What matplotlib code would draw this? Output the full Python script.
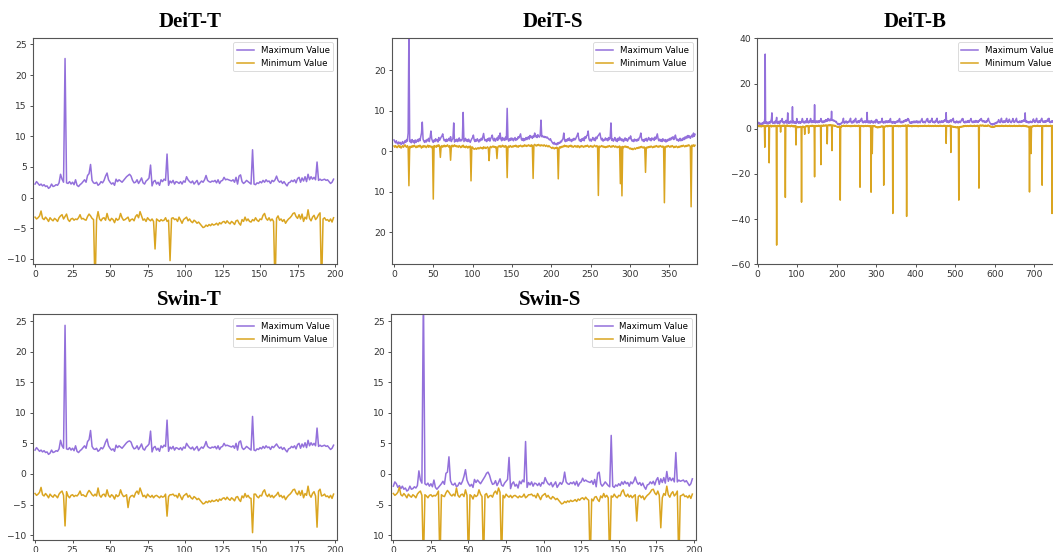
import numpy as np
import matplotlib
matplotlib.use("Agg")
import matplotlib.pyplot as plt
from matplotlib.ticker import FixedLocator, FixedFormatter

# ---------------- data ----------------
titles = ["DeiT-T", "DeiT-S", "DeiT-B", "Swin-T", "Swin-S"]
legend_labels = ["Maximum Value", "Minimum Value"]

deit_t_max = [
    2.2, 2.6, 2.3, 2.0, 2.2, 1.9, 2.1, 1.8, 1.9, 1.5,
    1.7, 2.2, 1.8, 1.9, 2.1, 2.0, 2.4, 3.8, 3.0, 2.5,
    22.7, 2.4, 2.3, 2.6, 2.2, 2.5, 2.1, 2.9, 2.0, 1.8,
    2.1, 2.3, 2.6, 2.9, 2.5, 3.6, 3.9, 5.4, 2.8, 2.4,
    2.3, 2.5, 2.0, 2.2, 2.6, 2.4, 2.8, 3.5, 4.0, 2.9,
    2.5, 2.2, 2.4, 2.0, 3.0, 2.6, 2.9, 2.7, 2.5, 2.8,
    3.1, 3.4, 3.6, 3.8, 3.5, 2.8, 2.4, 2.5, 2.9, 2.3,
    2.7, 3.2, 2.4, 2.2, 2.7, 2.9, 3.2, 5.3, 1.9, 2.6,
    2.8, 2.2, 2.5, 2.0, 2.9, 2.6, 3.0, 2.8, 7.1, 2.0,
    2.7, 2.4, 2.8, 2.2, 2.6, 2.5, 2.3, 2.6, 2.2, 2.7,
    2.5, 3.4, 2.9, 2.6, 2.4, 2.7, 2.2, 2.5, 2.8, 2.1,
    2.4, 2.7, 2.5, 2.9, 3.6, 2.8, 2.6, 2.5, 2.7, 2.6,
    2.8, 2.4, 2.9, 2.3, 2.7, 2.8, 3.3, 2.9, 3.0, 2.9,
    2.8, 2.7, 2.9, 2.5, 3.3, 2.2, 3.5, 3.7, 2.6, 2.3,
    2.5, 2.8, 2.6, 2.4, 2.2, 7.8, 2.2, 2.1, 2.4, 2.3,
    2.6, 2.4, 2.8, 2.5, 2.9, 2.6, 2.7, 2.3, 2.8, 2.6,
    2.9, 3.5, 2.8, 2.5, 2.7, 2.3, 2.6, 2.2, 1.9, 2.4,
    2.5, 2.8, 2.6, 2.9, 2.4, 3.1, 3.3, 2.5, 3.2, 2.7,
    3.4, 2.6, 3.8, 2.9, 3.4, 3.0, 3.3, 2.9, 5.8, 2.8,
    3.0, 2.8, 2.9, 3.0, 2.8, 2.9, 2.6, 2.3, 2.5, 3.0,
]
deit_t_min = [
    -3.2, -3.5, -3.3, -3.0, -2.2, -3.4, -3.6, -3.2, -3.5, -3.9,
    -3.3, -3.6, -3.8, -3.4, -3.6, -3.9, -3.3, -3.0, -2.8, -3.5,
    -3.1, -2.7, -3.6, -3.9, -3.5, -3.4, -3.7, -3.5, -3.6, -3.3,
    -2.8, -3.5, -3.4, -3.6, -3.7, -3.1, -2.7, -3.0, -3.4, -3.6,
    -15.0, -3.6, -2.3, -3.5, -3.8, -3.4, -3.3, -3.7, -2.6, -3.5,
    -3.8, -3.4, -3.6, -4.1, -3.4, -3.7, -3.5, -2.6, -3.3, -3.7,
    -3.6, -3.4, -3.2, -3.9, -3.6, -3.5, -3.8, -3.1, -2.8, -3.3,
    -2.3, -3.0, -3.7, -3.5, -3.9, -3.3, -3.6, -3.8, -3.5, -3.9,
    -8.4, -3.5, -3.7, -3.9, -3.6, -3.8, -3.7, -3.3, -3.9, -3.7,
    -10.3, -3.4, -3.3, -3.6, -3.5, -3.9, -3.2, -3.7, -4.2, -3.6,
    -3.4, -3.2, -3.8, -3.5, -3.9, -4.1, -3.7, -3.9, -4.2, -4.0,
    -4.3, -4.6, -4.9, -4.8, -4.5, -4.7, -4.4, -4.6, -4.3, -4.5,
    -4.4, -4.2, -4.5, -4.1, -4.3, -4.0, -3.9, -4.2, -3.8, -4.1,
    -4.3, -3.9, -4.1, -4.4, -3.8, -3.7, -4.2, -4.5, -3.6, -3.9,
    -3.2, -3.8, -3.5, -3.9, -4.0, -3.6, -3.8, -3.3, -3.7, -3.9,
    -3.5, -3.6, -2.9, -2.6, -3.4, -3.7, -3.3, -3.8, -3.5, -3.9,
    -15.0, -3.4, -3.0, -3.7, -3.5, -3.9, -3.6, -4.2, -3.8, -3.5,
    -3.3, -3.0, -2.6, -2.5, -3.1, -3.4, -2.8, -3.5, -2.7, -3.9,
    -3.2, -3.5, -2.0, -3.4, -3.8, -3.2, -2.9, -3.6, -3.3, -2.8,
    -2.5, -15.0, -3.5, -3.3, -3.7, -3.6, -3.9, -3.5, -4.0, -3.3,
]

deit_s_max = [
    2.8, 2.4, 2.1, 2.6, 2.0, 1.8, 2.3, 1.9, 2.2, 1.7,
    2.0, 2.4, 1.8, 2.1, 2.6, 2.2, 2.9, 2.5, 4.5, 30.0,
    2.4, 2.7, 2.1, 2.9, 2.3, 2.6, 2.0, 2.8, 2.2, 2.5,
    2.9, 2.4, 3.1, 2.6, 3.5, 4.5, 7.2, 3.0, 2.5, 2.2,
    2.7, 2.3, 2.9, 2.6, 3.2, 2.4, 3.5, 5.0, 3.1, 2.5,
    2.2, 2.8, 2.4, 3.1, 2.6, 2.9, 2.3, 3.4, 2.7, 3.1,
    3.5, 3.8, 4.3, 3.2, 2.6, 2.9, 2.4, 3.0, 2.5, 2.8,
    3.2, 2.6, 3.6, 2.4, 2.9, 3.1, 7.0, 2.3, 2.8, 2.5,
    3.0, 2.4, 2.7, 3.3, 2.5, 2.9, 2.6, 3.1, 9.6, 2.4,
    2.8, 3.2, 2.5, 2.9, 2.4, 3.0, 2.6, 2.2, 2.7, 3.1,
    3.4, 4.0, 2.8, 2.4, 2.9, 2.5, 3.1, 2.7, 2.3, 2.9,
    2.6, 3.2, 2.8, 3.6, 4.4, 3.0, 2.6, 2.9, 2.4, 3.1,
    2.7, 3.3, 2.5, 3.1, 3.5, 4.0, 2.9, 2.6, 3.2, 2.5,
    2.9, 3.3, 2.7, 3.8, 3.1, 4.5, 3.0, 2.6, 3.4, 2.8,
    3.2, 2.7, 3.5, 2.9, 10.6, 3.0, 2.5, 3.1, 2.7, 3.3,
    2.8, 3.2, 2.6, 3.0, 3.4, 2.7, 3.1, 2.9, 3.6, 3.3,
    3.8, 4.3, 3.0, 2.7, 3.2, 2.6, 3.1, 2.8, 3.4, 2.9,
    3.3, 3.6, 3.0, 3.9, 3.4, 3.7, 3.2, 3.8, 3.5, 4.5,
    3.6, 3.9, 3.4, 4.1, 3.7, 3.5, 3.9, 7.7, 3.6, 3.8,
    3.5, 3.7, 3.4, 3.6, 3.3, 3.5, 3.2, 3.0, 2.8, 3.1,
    2.6, 2.3, 2.0, 1.8, 2.2, 1.7, 1.9, 1.6, 2.1, 1.8,
    2.2, 2.0, 2.5, 2.3, 2.8, 3.1, 4.5, 2.7, 2.4, 2.9,
    2.5, 3.1, 2.7, 3.3, 2.6, 2.9, 2.4, 3.0, 2.7, 3.2,
    2.8, 3.0, 3.5, 3.9, 4.5, 3.2, 2.6, 2.9, 2.4, 3.1,
    2.7, 3.3, 2.6, 3.6, 3.2, 3.8, 4.0, 5.0, 3.1, 2.6,
    3.0, 2.5, 2.9, 3.4, 2.8, 3.2, 2.6, 3.5, 3.1, 3.7,
    3.9, 4.2, 4.5, 3.4, 2.8, 3.2, 2.5, 2.9, 2.7, 3.3,
    2.8, 3.1, 2.6, 3.4, 2.9, 3.2, 7.0, 2.7, 3.1, 2.5,
    2.9, 3.4, 2.6, 3.0, 2.4, 3.2, 2.7, 3.5, 2.8, 3.1,
    2.6, 3.0, 2.4, 2.8, 3.3, 2.7, 3.1, 2.5, 2.9, 3.4,
    3.1, 3.8, 2.9, 2.5, 2.8, 2.4, 3.0, 2.6, 2.9, 2.5,
    3.0, 2.7, 3.3, 3.6, 4.5, 3.1, 2.6, 2.9, 2.4, 3.0,
    2.7, 3.2, 2.5, 2.9, 3.4, 2.8, 3.1, 2.6, 3.3, 2.9,
    3.2, 2.7, 3.5, 3.0, 3.7, 4.3, 3.1, 2.6, 3.0, 2.5,
    2.9, 2.4, 3.1, 2.7, 2.5, 2.9, 2.3, 2.8, 2.5, 3.0,
    2.7, 3.2, 2.8, 3.4, 3.1, 3.6, 2.9, 3.3, 4.0, 3.1,
    2.7, 3.0, 2.5, 2.8, 3.2, 2.6, 3.0, 2.7, 3.3, 2.9,
    3.5, 3.1, 3.7, 3.3, 3.9, 3.4, 3.8, 3.2, 3.6, 4.0,
    3.5, 4.5, 3.7, 4.2,
]
deit_s_min = [
    1.3, 1.0, 1.4, 1.1, 0.9, 1.2, 1.5, 1.0, 1.3, 0.8,
    1.1, 1.4, 1.0, 1.3, 1.6, 1.2, 1.0, 1.4, 1.1, -8.5,
    1.2, 0.9, 1.3, 1.0, 1.4, 1.1, 1.5, 1.2, 0.9, 1.3,
    1.0, 1.4, 1.1, 1.5, 1.2, 0.8, 1.3, 1.0, 1.4, 1.1,
    1.3, 0.9, 1.2, 1.5, 1.0, 1.4, 1.1, 1.3, 0.9, 1.2,
    -11.8, 1.4, 1.1, 1.3, 1.0, 1.5, 1.2, 1.6, 1.3, -1.5,
    1.2, 1.4, 1.0, 1.3, 1.5, 1.1, 1.4, 1.2, 1.6, 1.3,
    1.0, 1.4, -2.2, 1.2, 1.5, 1.1, 1.3, 1.6, 1.2, 1.4,
    1.1, 1.3, 1.0, 1.4, 1.2, 0.9, 1.3, 1.1, 1.5, 1.0,
    1.2, 0.9, 1.3, 1.1, 0.8, 1.2, 1.0, 1.3, -7.3, 1.1,
    1.0, 0.7, 0.5, 0.6, 0.8, 0.5, 0.7, 0.9, 0.6, 0.8,
    1.0, 0.7, 0.9, 0.6, 1.1, 0.8, 1.0, 0.7, 0.9, 1.1,
    0.8, -2.3, 1.0, 1.2, 0.9, 1.1, 1.3, 1.0, 1.2, 0.9,
    1.1, -1.8, 1.0, 1.3, 1.1, 1.4, 1.0, 1.2, 1.5, 1.1,
    1.3, 1.0, 1.4, 1.2, -6.5, 1.1, 1.3, 1.0, 1.4, 1.2,
    1.0, 1.3, 1.1, 1.4, 1.2, 1.5, 1.1, 1.3, 1.0, 1.4,
    1.2, 1.5, 1.3, 1.1, 1.4, 1.2, 1.6, 1.3, 1.5, 1.2,
    1.4, 1.6, 1.3, 1.5, 1.2, 1.6, 1.4, -6.7, 1.5, 1.7,
    1.5, 1.3, 1.6, 1.4, 1.7, 1.5, 1.3, 1.6, 1.4, 1.5,
    1.3, 1.6, 1.4, 1.2, 1.5, 1.3, 1.1, 1.4, 1.2, 1.0,
    0.9, 0.7, 1.0, 0.8, 0.6, 0.9, 0.7, 1.0, 0.8, -6.8,
    0.9, 1.1, 0.8, 1.2, 1.0, 1.3, 1.1, 1.5, 1.2, 1.4,
    1.1, 1.3, 1.0, 1.4, 1.2, 1.5, 1.1, 1.3, 1.0, 1.2,
    1.4, 1.1, 1.3, 1.0, 1.4, 1.2, 0.9, 1.3, 1.1, 1.4,
    1.2, 1.0, 1.3, 1.1, 1.4, 1.2, 1.5, 1.3, 1.0, 1.2,
    1.4, 1.1, 1.3, 1.0, 1.2, 1.5, 1.3, 1.1, 1.4, 1.2,
    -10.9, 1.3, 1.0, 1.2, 1.4, 1.1, 1.3, 1.0, 1.2, 0.9,
    1.2, 1.0, 1.3, 1.1, 1.4, 1.2, 1.0, 1.3, 1.1, 1.4,
    1.2, 1.0, 1.3, 1.1, 0.9, 1.2, 1.0, 1.3, -8.0, 1.1,
    -11.0, 1.2, 0.9, 1.1, 1.3, 1.0, 1.2, 0.9, 1.1, 0.8,
    0.6, 0.8, 0.5, 0.7, 0.4, 0.6, 0.8, 0.5, 0.7, 0.9,
    0.7, 1.0, 0.8, 1.1, 0.9, 1.2, 1.0, 0.8, 1.1, 0.9,
    -5.2, 1.0, 0.8, 1.1, 0.9, 1.2, 1.0, 1.3, 1.1, 0.9,
    1.2, 1.0, 1.3, 1.1, 1.4, 1.2, 1.0, 1.3, 1.1, 1.4,
    1.2, 1.0, 1.3, 1.1, -12.7, 1.2, 1.0, 1.3, 1.1, 1.4,
    1.2, 1.0, 1.3, 1.1, 1.4, 1.2, 0.9, 1.2, 1.0, 1.3,
    1.1, 0.9, 1.2, 1.0, 1.3, 1.1, 1.4, 1.2, 1.5, 1.3,
    1.1, 1.4, 1.2, 1.5, 1.3, 1.6, 1.4, 1.2, -13.7, 1.5,
    1.3, 1.6, 1.2, 1.5,
]

deit_b_max = [
    2.9, 2.5, 2.2, 2.7, 2.1, 1.9, 2.4, 2.0, 2.3, 1.8, 2.1, 2.5, 1.9, 2.2, 2.7, 2.3, 3.0, 2.6, 4.6, 33.0,
    2.5, 2.8, 2.2, 3.0, 2.4, 2.7, 2.1, 2.9, 2.3, 2.6, 3.0, 2.5, 3.2, 2.7, 3.6, 4.6, 7.0, 3.1, 2.6, 2.3,
    2.8, 2.4, 3.0, 2.7, 3.3, 2.5, 3.6, 3.9, 5.0, 2.6, 2.3, 2.9, 2.5, 3.2, 2.7, 3.0, 2.4, 3.5, 2.8, 3.2,
    3.6, 3.9, 4.5, 3.3, 2.7, 3.0, 2.5, 3.1, 2.6, 2.9, 3.3, 2.7, 3.7, 2.5, 3.0, 3.2, 7.0, 2.4, 2.9, 2.6,
    3.1, 2.5, 2.8, 3.4, 2.6, 3.0, 2.7, 3.2, 9.7, 2.5, 2.9, 3.3, 2.6, 3.0, 2.5, 3.1, 2.7, 2.3, 2.8, 4.5,
    3.5, 3.1, 2.9, 2.5, 3.0, 2.6, 3.2, 2.8, 2.4, 3.0, 2.7, 3.3, 2.9, 4.5, 3.7, 3.1, 2.7, 3.0, 2.5, 3.2,
    2.8, 3.4, 2.6, 3.2, 3.6, 4.5, 3.0, 2.7, 3.3, 2.6, 3.0, 3.4, 2.8, 3.9, 4.5, 3.3, 3.1, 2.7, 3.5, 2.9,
    3.3, 2.8, 3.6, 3.0, 10.6, 3.1, 2.6, 3.2, 2.8, 3.4, 2.9, 3.3, 2.7, 3.1, 3.5, 2.8, 3.2, 3.0, 3.7, 3.4,
    4.5, 3.9, 3.1, 2.8, 3.3, 2.7, 3.2, 2.9, 3.5, 3.0, 3.4, 3.7, 3.1, 4.0, 3.5, 3.8, 3.3, 3.9, 4.5, 3.6,
    3.7, 4.0, 3.5, 4.2, 3.8, 3.6, 4.0, 7.7, 3.7, 3.9, 3.6, 3.8, 3.5, 3.7, 3.4, 3.6, 3.3, 3.1, 2.9, 3.2,
    2.7, 2.4, 2.1, 1.9, 2.3, 1.8, 2.0, 1.7, 2.2, 1.9, 2.3, 2.1, 2.6, 2.4, 2.9, 3.2, 3.6, 4.6, 2.8, 2.5,
    3.0, 2.6, 3.2, 2.8, 3.4, 2.7, 3.0, 2.5, 3.1, 2.8, 3.3, 2.9, 3.1, 3.6, 4.0, 4.6, 3.3, 2.7, 3.0, 2.5,
    3.2, 2.8, 3.4, 2.7, 3.7, 3.3, 3.9, 4.1, 4.6, 3.2, 2.7, 3.1, 2.6, 3.0, 3.5, 2.9, 3.3, 2.7, 3.6, 3.2,
    3.8, 4.0, 4.3, 4.6, 3.5, 2.9, 3.3, 2.6, 3.0, 2.8, 3.4, 2.9, 3.2, 2.7, 3.5, 3.0, 3.3, 7.2, 2.8, 3.2,
    2.6, 3.0, 3.5, 2.7, 3.1, 2.5, 3.3, 2.8, 3.6, 2.9, 3.2, 2.7, 3.1, 2.5, 2.9, 3.4, 2.8, 3.2, 2.6, 3.0,
    4.1, 3.2, 3.9, 3.0, 2.6, 2.9, 2.5, 3.1, 2.7, 3.0, 2.6, 3.1, 2.8, 3.4, 3.7, 4.6, 3.2, 2.7, 3.0, 2.5,
    3.1, 2.8, 3.3, 2.6, 3.0, 3.5, 2.9, 3.2, 2.7, 3.4, 3.0, 3.3, 2.8, 3.6, 3.1, 3.8, 4.5, 3.2, 2.7, 3.1,
    2.6, 3.0, 2.5, 3.2, 2.8, 2.6, 3.0, 2.4, 2.9, 2.6, 3.1, 2.8, 3.3, 2.9, 3.5, 3.2, 3.7, 3.0, 3.4, 4.5,
    3.2, 2.8, 3.1, 2.6, 2.9, 3.3, 2.7, 3.1, 2.8, 3.4, 3.0, 3.6, 3.2, 3.8, 3.4, 3.9, 3.3, 3.7, 4.1, 3.6,
    4.5, 3.8, 4.2, 3.5, 3.0, 2.6, 2.9, 2.4, 2.8, 2.5, 3.1, 2.7, 3.0, 2.6, 3.3, 2.8, 3.1, 2.7, 3.4, 3.0,
    2.7, 3.2, 2.8, 3.5, 3.0, 2.6, 3.1, 2.7, 3.3, 2.9, 3.2, 2.6, 3.0, 3.5, 3.9, 4.1, 4.5, 3.2, 2.8, 3.1,
    2.7, 3.3, 2.9, 3.1, 2.6, 3.0, 3.4, 3.8, 4.2, 3.6, 4.5, 3.3, 2.9, 3.2, 2.7, 3.1, 3.5, 2.8, 3.2, 3.7,
    4.0, 4.6, 3.4, 2.9, 3.3, 2.8, 3.1, 2.6, 3.0, 3.4, 2.8, 3.3, 3.9, 4.3, 4.6, 3.1, 2.7, 3.0, 2.5, 3.2,
    2.8, 3.4, 3.0, 2.7, 3.2, 2.9, 3.5, 3.1, 2.8, 3.3, 3.0, 3.6, 3.2, 3.8, 3.4, 4.1, 3.6, 7.1, 3.0, 3.3,
    2.9, 3.5, 3.1, 2.7, 3.3, 2.9, 3.6, 3.2, 3.9, 3.4, 3.0, 3.5, 4.0, 3.7, 4.2, 4.6, 3.3, 2.8, 3.1, 2.7,
    3.0, 2.6, 3.2, 2.8, 3.4, 2.9, 3.1, 2.6, 3.0, 2.7, 3.3, 2.9, 3.2, 2.7, 3.1, 3.5, 3.9, 4.3, 3.6, 4.5,
    4.1, 3.2, 2.8, 3.1, 2.6, 3.0, 3.3, 2.7, 3.1, 2.8, 3.4, 2.9, 3.2, 3.6, 3.0, 3.3, 2.8, 3.5, 3.9, 4.2,
    4.5, 3.6, 3.1, 2.8, 3.2, 2.7, 3.0, 3.4, 2.9, 3.3, 2.8, 3.1, 3.6, 3.2, 3.0, 3.4, 2.9, 3.3, 2.8, 3.2,
    3.6, 3.3, 3.8, 4.1, 3.7, 4.3, 4.5, 3.8, 3.4, 3.1, 3.6, 3.2, 3.5, 3.0, 3.3, 2.9, 3.2, 2.8, 3.1, 3.5,
    3.0, 3.4, 3.8, 4.2, 4.6, 3.6, 3.2, 2.9, 2.6, 2.3, 2.1, 1.9, 2.2, 1.8, 2.0, 1.7, 2.1, 1.9, 2.3, 2.0,
    2.4, 2.2, 2.6, 2.3, 2.8, 2.5, 2.9, 2.7, 3.1, 3.6, 4.0, 3.2, 2.8, 3.1, 2.7, 3.3, 3.8, 4.6, 3.4, 2.9,
    3.2, 2.7, 3.0, 3.5, 2.9, 3.3, 2.8, 3.1, 3.6, 4.0, 4.6, 3.4, 3.0, 3.3, 2.8, 3.2, 3.7, 4.2, 3.5, 3.1,
    2.8, 3.2, 2.7, 3.1, 3.6, 3.9, 4.5, 3.5, 3.0, 3.3, 2.8, 3.1, 3.5, 3.9, 4.3, 4.6, 3.3, 2.9, 3.2, 2.8,
    3.1, 2.7, 3.0, 3.4, 2.9, 3.2, 2.8, 3.3, 2.9, 3.5, 3.1, 3.6, 3.2, 3.8, 3.4, 3.9, 3.5, 7.0, 3.1, 3.4,
    2.9, 3.3, 2.8, 3.2, 2.7, 3.1, 2.6, 3.0, 2.7, 3.2, 2.8, 3.3, 2.9, 3.1, 2.7, 3.0, 3.4, 3.8, 4.3, 3.5,
    3.0, 3.3, 2.8, 3.2, 3.7, 4.1, 4.6, 3.4, 2.9, 3.2, 2.7, 3.1, 3.5, 3.0, 3.3, 2.8, 3.4, 3.9, 4.2, 4.6,
    3.6, 3.1, 3.4, 2.9, 3.2, 2.8, 3.3, 2.9, 3.5, 3.0, 3.4, 3.1, 3.7, 3.3, 3.9, 4.4, 3.5, 4.6, 3.2, 2.8,
    3.1, 2.7, 3.0, 3.4, 2.9, 3.3, 3.0, 3.5, 3.1, 3.6, 3.2, 3.8, 3.4, 3.9, 3.5, 4.1, 3.6, 4.3, 3.8, 4.5,
    3.9, 3.6, 4.2, 3.7, 4.0, 3.5, 3.8, 4.1,
]
deit_b_min = [
    1.3, 1.0, 1.4, 1.1, 0.9, 1.2, 1.5, 1.0, 1.3, 0.8, 1.1, 1.4, 1.0, 1.3, 1.5, 1.2, 1.0, 1.4, -8.2, 1.1,
    1.2, 0.9, 1.3, 1.0, 1.4, 1.1, 1.5, 1.2, 0.9, -15.1, 1.0, 1.4, 1.1, 1.5, 1.2, 0.8, 1.3, 1.0, 1.4, 1.1,
    1.3, 0.9, 1.2, 1.5, 1.0, 1.4, 1.1, 1.3, -51.5, 1.2, 1.4, 1.1, 1.3, 1.0, 1.5, 1.2, 1.6, 1.3, -1.5, 1.2,
    1.4, 1.0, 1.3, 1.5, 1.1, 1.4, 1.2, 1.6, 1.3, 1.0, -30.4, 1.2, 1.5, 1.1, 1.3, 1.6, 1.2, 1.4, 1.1, 1.3,
    1.0, 1.4, 1.2, 0.9, 1.3, 1.1, 1.5, 1.0, 1.2, 0.9, 1.3, 1.1, 0.8, 1.2, 1.0, 1.3, 0.9, -7.2, 1.1, 1.0,
    0.7, 0.5, 0.6, 0.8, 0.5, 0.7, 0.9, 0.6, 0.8, 1.0, 0.7, -32.5, 0.9, 0.6, 1.1, 0.8, 1.0, 0.7, 0.9, -2.5,
    0.8, 1.1, 1.0, 1.2, 0.9, 1.1, 1.3, 1.0, 1.2, -2.0, 0.9, 1.1, 1.0, 1.3, 1.1, 1.4, 1.0, 1.2, 1.5, 1.1,
    1.3, 1.0, 1.4, 1.2, -21.3, 1.1, 1.3, 1.0, 1.4, 1.2, 1.0, 1.3, 1.1, 1.4, 1.2, 1.5, 1.1, 1.3, 1.0, 1.4,
    -15.9, 1.5, 1.3, 1.1, 1.4, 1.2, 1.6, 1.3, 1.5, 1.2, 1.4, 1.6, 1.3, 1.5, 1.2, 1.6, -6.7, 1.4, 1.5, 1.7,
    1.5, 1.3, 1.6, 1.4, 1.7, 1.5, 1.3, 1.6, -9.7, 1.5, 1.3, 1.6, 1.4, 1.2, 1.5, 1.3, 1.1, 1.4, 1.2, 1.0,
    0.9, 0.7, 1.0, 0.8, 0.6, 0.9, 0.7, 1.0, 0.8, -31.6, 0.9, 1.1, 0.8, 1.2, 1.0, 1.3, 1.1, 1.5, 1.2, 1.4,
    1.1, 1.3, 1.0, 1.4, 1.2, 1.5, 1.1, 1.3, 1.0, 1.2, 1.4, 1.1, 1.3, 1.0, 1.4, 1.2, 0.9, 1.3, 1.1, 1.4,
    1.2, 1.0, 1.3, 1.1, 1.4, 1.2, 1.5, 1.3, 1.0, 1.2, 1.4, 1.1, 1.3, 1.0, 1.2, 1.5, 1.3, 1.1, 1.4, -25.9,
    1.3, 1.0, 1.2, 1.4, 1.1, 1.3, 1.0, 1.2, 0.9, 1.2, 1.0, 1.3, 1.1, 1.4, 1.2, 1.0, 1.3, 1.1, 1.4, 1.2,
    1.0, 1.3, 1.1, 0.9, 1.2, 1.0, 1.3, -28.1, 1.1, 1.2, -11.0, 1.2, 0.9, 1.1, 1.3, 1.0, 1.2, 0.9, 1.1, 0.8,
    0.6, 0.8, 0.5, 0.7, 0.4, 0.6, 0.8, 0.5, 0.7, 0.9, 0.7, 1.0, 0.8, 1.1, 0.9, 1.2, 1.0, 0.8, 1.1, -25.0,
    0.9, 1.0, 0.8, 1.1, 0.9, 1.2, 1.0, 1.3, 1.1, 0.9, 1.2, 1.0, 1.3, 1.1, 1.4, 1.2, 1.0, 1.3, 1.1, 1.4,
    1.2, 1.0, -37.5, 1.1, 1.3, 1.2, 1.0, 1.3, 1.1, 1.4, 1.2, 1.0, 1.3, 1.1, 1.4, 1.2, 0.9, 1.2, 1.0, 1.3,
    1.1, 0.9, 1.2, 1.0, 1.3, 1.1, 1.4, 1.2, 1.5, 1.3, 1.1, 1.4, 1.2, 1.5, 1.3, 1.6, 1.4, -38.8, 1.2, 1.5,
    1.3, 1.6, 1.2, 1.5, 1.2, 1.0, 1.3, 1.1, 1.4, 1.2, 0.9, 1.3, 1.0, 1.4, 1.1, 1.3, 1.0, 1.2, 1.4, 1.1,
    1.3, 1.0, 1.2, 1.4, 1.1, 1.3, 0.9, 1.2, 1.0, 1.3, 1.1, 1.4, 1.2, 1.0, 1.3, 1.1, 1.4, 1.2, 1.0, 1.3,
    1.1, 1.4, 1.2, 1.5, 1.3, 1.1, 1.4, 1.2, 1.0, 1.3, 1.1, 1.4, 1.2, 1.5, 1.3, 1.0, 1.2, 1.4, 1.1, 1.3,
    1.0, 1.2, 1.4, 1.1, 1.3, 1.0, 1.2, 1.4, 1.1, 1.3, 1.5, 1.2, 1.0, 1.3, 1.1, 1.4, 1.2, 1.0, 1.3, 1.1,
    1.4, 1.2, 1.5, 1.3, 1.1, 1.4, 1.2, 1.0, 1.3, 1.1, 1.4, 1.2, 1.5, 1.3, 1.1, 1.4, 1.2, -6.5, 1.3, 1.1,
    1.4, 1.2, 1.0, 1.3, 1.1, 1.4, 1.2, 1.5, 1.3, -10.5, 1.2, 1.0, 0.8, 1.1, 0.9, 0.7, 1.0, 0.8, 0.6, 0.9,
    0.7, 0.5, 0.8, 0.6, 0.4, 0.7, 0.5, 0.8, 0.6, -31.6, 0.7, 0.9, 0.6, 0.8, 1.0, 0.7, 0.9, 1.1, 0.8, 1.0,
    1.2, 0.9, 1.1, 1.3, 1.0, 1.2, 1.4, 1.1, 1.3, 1.0, 1.2, 1.4, 1.1, 1.3, 1.0, 1.2, 1.4, 1.1, 1.3, 1.5,
    1.2, 1.4, 1.1, 1.3, 1.0, 1.2, 1.4, 1.1, 1.3, 1.5, 1.2, 1.0, 1.3, 1.1, 1.4, 1.2, 1.5, 1.3, 1.1, 1.4,
    -26.3, 1.2, 1.5, 1.3, 1.6, 1.4, 1.2, 1.5, 1.3, 1.6, 1.4, 1.2, 1.5, 1.3, 1.1, 1.4, 1.2, 1.5, 1.3, 1.1,
    1.4, 1.2, 1.5, 1.3, 1.6, 1.4, 1.1, 1.3, 1.0, 0.8, 1.1, 0.9, 0.7, 1.0, 0.8, 0.6, 0.9, 0.7, 1.0, 0.8,
    1.1, 0.9, 1.2, 1.0, 1.3, 1.1, 1.4, 1.2, 1.0, 1.3, 1.1, 1.4, 1.2, 1.0, 1.3, 1.1, 1.4, 1.2, 1.5, 1.3,
    1.1, 1.4, 1.2, 1.0, 1.3, 1.1, 1.4, 1.2, 1.5, 1.3, 1.1, 1.4, 1.2, 1.0, 1.3, 1.1, 1.4, 1.2, 1.5, 1.3,
    1.0, 1.2, 1.4, 1.1, 1.3, 1.0, 1.2, 1.4, 1.1, 1.3, 1.5, 1.2, 1.0, 1.3, 1.1, 1.4, 1.2, 1.0, 1.3, 1.1,
    1.4, 1.2, 1.5, 1.3, 1.1, 1.4, 1.2, 1.0, 1.3, 1.1, 1.4, 1.2, 1.5, 1.3, 1.1, 1.4, 1.2, 1.0, 1.3, 1.1,
    0.9, 1.2, 1.0, 0.8, 1.1, 0.9, 0.7, 1.0, -28.0, 0.8, 1.1, 0.9, -11.0, 1.0, 0.8, 1.1, 0.9, 1.2, 1.0, 1.3,
    1.1, 1.4, 1.2, 1.0, 1.3, 1.1, 1.4, 1.2, 1.5, 1.3, 1.1, 1.4, 1.2, 1.0, 1.3, 1.1, 1.4, 1.2, 1.0, 1.3,
    -25.0, 1.2, 1.4, 1.1, 1.3, 1.0, 1.2, 1.4, 1.1, 1.3, 1.5, 1.2, 1.0, 1.3, 1.1, 1.4, 1.2, 1.0, 1.3, 1.1,
    1.4, 1.2, 1.5, 1.3, 1.1, -37.5, 1.2, 1.4, 1.1, 1.3, 1.0, 1.2, 1.4, 1.1, 1.3, 1.5, 1.2, 1.4, 1.1, 1.3,
    1.0, 1.2, -38.8, 1.1, 1.3, 1.0, 1.2, 1.4,
]

swin_t_max = [
    3.9, 4.3, 4.0, 3.7, 3.9, 3.6, 3.8, 3.5, 3.6, 3.2,
    3.4, 3.9, 3.5, 3.6, 3.8, 3.7, 4.1, 5.5, 4.6, 4.2,
    24.3, 4.1, 4.0, 4.3, 3.9, 4.2, 3.8, 4.6, 3.7, 3.5,
    3.8, 4.0, 4.3, 4.6, 4.2, 5.3, 5.6, 7.1, 4.5, 4.1,
    4.0, 4.2, 3.7, 3.9, 4.3, 4.1, 4.5, 5.2, 5.7, 4.6,
    4.2, 3.9, 4.1, 3.7, 4.7, 4.3, 4.6, 4.4, 4.2, 4.5,
    4.8, 5.1, 5.3, 5.4, 5.2, 4.5, 4.1, 4.2, 4.6, 4.0,
    4.4, 4.9, 4.1, 3.9, 4.4, 4.6, 4.9, 7.0, 3.6, 4.3,
    4.5, 3.9, 4.2, 3.7, 4.6, 4.3, 4.7, 4.5, 8.8, 3.7,
    4.4, 4.1, 4.5, 3.9, 4.3, 4.2, 4.0, 4.3, 3.9, 4.4,
    4.2, 5.0, 4.6, 4.3, 4.1, 4.4, 3.9, 4.2, 4.5, 3.8,
    4.1, 4.4, 4.2, 4.6, 5.3, 4.5, 4.3, 4.2, 4.4, 4.3,
    4.5, 4.1, 4.6, 4.0, 4.4, 4.5, 5.0, 4.6, 4.7, 4.6,
    4.5, 4.4, 4.6, 4.2, 5.0, 3.9, 5.2, 5.4, 4.3, 4.0,
    4.2, 4.5, 4.3, 4.1, 3.9, 9.4, 3.9, 3.8, 4.1, 4.0,
    4.3, 4.1, 4.5, 4.2, 4.6, 4.3, 4.4, 4.0, 4.5, 4.3,
    4.6, 4.9, 4.5, 4.2, 4.4, 4.0, 4.3, 3.9, 3.6, 4.1,
    4.2, 4.5, 4.3, 4.6, 4.1, 4.8, 5.0, 4.2, 4.9, 4.4,
    5.1, 4.3, 5.5, 4.6, 5.1, 4.7, 5.0, 4.6, 7.5, 4.5,
    4.7, 4.5, 4.6, 4.7, 4.5, 4.6, 4.3, 4.0, 4.2, 4.7,
]
swin_t_min = [
    -3.2, -3.5, -3.3, -3.0, -2.2, -3.4, -3.6, -3.2, -3.5, -3.9,
    -3.3, -3.6, -3.8, -3.4, -3.6, -3.9, -3.3, -3.0, -2.8, -3.5,
    -8.5, -2.9, -3.6, -3.9, -3.5, -3.4, -3.7, -3.5, -3.6, -3.3,
    -2.8, -3.5, -3.4, -3.6, -3.7, -3.1, -2.7, -3.0, -3.4, -3.6,
    -3.3, -3.6, -2.3, -3.5, -3.8, -3.4, -3.3, -3.7, -2.6, -3.5,
    -3.8, -3.4, -3.6, -4.1, -3.4, -3.7, -3.5, -2.6, -3.3, -3.7,
    -3.6, -3.4, -5.5, -3.9, -3.6, -3.5, -3.8, -3.1, -2.8, -3.3,
    -2.3, -3.0, -3.7, -3.5, -3.9, -3.3, -3.6, -3.8, -3.5, -3.9,
    -3.6, -3.5, -3.7, -3.9, -3.6, -3.8, -3.7, -3.3, -6.9, -3.7,
    -3.4, -3.4, -3.3, -3.6, -3.5, -3.9, -3.2, -3.7, -4.2, -3.6,
    -3.4, -3.2, -3.8, -3.5, -3.9, -4.1, -3.7, -3.9, -4.2, -4.0,
    -4.3, -4.6, -4.9, -4.8, -4.5, -4.7, -4.4, -4.6, -4.3, -4.5,
    -4.4, -4.2, -4.5, -4.1, -4.3, -4.0, -3.9, -4.2, -3.8, -4.1,
    -4.3, -3.9, -4.1, -4.4, -3.8, -3.7, -4.2, -4.5, -3.6, -3.9,
    -3.2, -3.8, -3.5, -3.9, -4.0, -9.6, -3.3, -3.3, -3.7, -3.9,
    -3.5, -3.6, -2.9, -2.6, -3.4, -3.7, -3.3, -3.8, -3.5, -3.9,
    -3.6, -3.4, -3.0, -3.7, -3.5, -3.9, -3.6, -4.2, -3.8, -3.5,
    -3.3, -3.0, -2.6, -2.5, -3.1, -3.4, -2.8, -3.5, -2.7, -3.9,
    -3.2, -3.5, -2.0, -3.4, -3.8, -3.2, -2.9, -3.6, -8.7, -2.8,
    -2.5, -3.6, -3.5, -3.3, -3.7, -3.6, -3.9, -3.5, -4.0, -3.3,
]

swin_s_max = [
    -2.0, -1.3, -1.6, -2.2, -1.9, -2.4, -2.0, -2.5, -2.3, -2.8,
    -2.6, -2.0, -2.5, -2.4, -2.1, -2.3, -1.9, 0.5, -1.0, -1.5,
    30.0, -1.6, -1.8, -1.5, -2.0, -1.6, -2.1, -1.0, -2.2, -2.5,
    -2.2, -1.9, -1.6, -1.2, -1.7, 0.1, 0.3, 2.8, -1.1, -1.7,
    -1.8, -1.5, -2.1, -1.9, -1.4, -1.7, -1.2, -0.4, 0.7, -1.0,
    -1.6, -2.0, -1.7, -2.2, -0.9, -1.4, -1.0, -1.3, -1.6, -1.2,
    -0.8, -0.4, 0.1, 0.3, -0.2, -1.1, -1.7, -1.6, -1.1, -1.9,
    -1.4, -0.8, -1.8, -2.0, -1.5, -1.2, -0.9, 2.7, -2.4, -1.6,
    -1.3, -2.0, -1.7, -2.3, -1.2, -1.6, -1.0, -1.3, 5.3, -2.2,
    -1.4, -1.8, -1.3, -2.0, -1.5, -1.6, -1.9, -1.5, -2.0, -1.4,
    -1.6, -0.6, -1.2, -1.6, -1.8, -1.4, -2.1, -1.7, -1.3, -2.2,
    -1.8, -1.4, -1.7, -1.2, 0.3, -1.3, -1.6, -1.7, -1.4, -1.6,
    -1.3, -1.8, -1.2, -2.0, -1.5, -1.3, -0.7, -1.2, -1.0, -1.2,
    -1.3, -1.4, -1.1, -1.7, -0.9, -2.1, 0.1, 0.3, -1.6, -2.0,
    -1.7, -1.3, -1.6, -1.9, -2.1, 6.3, -2.0, -2.2, -1.8, -2.0,
    -1.6, -1.9, -1.3, -1.7, -1.2, -1.6, -1.4, -2.0, -1.3, -1.6,
    -1.2, -0.5, -1.3, -1.7, -1.4, -1.9, -1.5, -2.1, -2.5, -1.8,
    -1.7, -1.3, -1.6, -1.2, -1.8, -1.0, -0.6, -1.7, -0.8, -1.4,
    -0.6, -1.5, 0.4, -1.2, -0.6, -1.1, -0.7, -1.3, 3.5, -1.3,
    -1.0, -1.2, -1.1, -1.0, -1.3, -1.1, -1.5, -1.9, -1.6, -0.8,
]
swin_s_min = [
    -3.2, -3.5, -3.3, -3.0, -2.2, -3.4, -3.6, -3.2, -3.5, -3.9,
    -3.3, -3.6, -3.8, -3.4, -3.6, -3.9, -3.3, -3.0, -2.8, -3.5,
    -15.0, -3.4, -3.6, -3.9, -3.5, -3.4, -3.7, -3.5, -3.6, -3.3,
    -2.8, -15.0, -3.4, -3.6, -3.7, -3.1, -2.7, -3.0, -3.4, -3.6,
    -3.3, -3.6, -2.3, -3.5, -3.8, -3.4, -3.3, -3.7, -2.6, -3.5,
    -15.0, -3.4, -3.6, -4.1, -3.4, -3.7, -3.5, -2.6, -3.3, -3.7,
    -15.0, -3.4, -3.2, -3.9, -3.6, -3.5, -3.8, -3.1, -2.8, -3.3,
    -2.3, -3.0, -15.0, -3.5, -3.9, -3.3, -3.6, -3.8, -3.5, -3.9,
    -3.6, -3.5, -3.7, -3.9, -3.6, -3.8, -3.7, -3.3, -3.9, -3.7,
    -3.4, -3.4, -3.3, -3.6, -3.5, -3.9, -3.2, -3.7, -4.2, -3.6,
    -3.4, -3.2, -3.8, -3.5, -3.9, -4.1, -3.7, -3.9, -4.2, -4.0,
    -4.3, -4.6, -4.9, -4.8, -4.5, -4.7, -4.4, -4.6, -4.3, -4.5,
    -4.4, -4.2, -4.5, -4.1, -4.3, -4.0, -3.9, -4.2, -3.8, -4.1,
    -4.3, -15.0, -4.1, -4.4, -3.8, -3.7, -4.2, -4.5, -3.6, -3.9,
    -3.2, -3.8, -3.5, -3.9, -15.0, -3.6, -3.8, -3.3, -3.7, -3.9,
    -3.5, -3.6, -2.9, -2.6, -3.4, -3.7, -3.3, -3.8, -3.5, -3.9,
    -3.6, -3.4, -7.7, -3.7, -3.5, -3.9, -3.6, -4.2, -3.8, -3.5,
    -3.3, -3.0, -2.6, -2.5, -3.1, -3.4, -2.8, -3.5, -8.8, -3.9,
    -3.2, -3.5, -2.0, -3.4, -3.8, -3.2, -2.9, -3.6, -3.3, -2.8,
    -15.0, -3.6, -3.5, -3.3, -3.7, -3.6, -3.9, -3.5, -4.0, -3.3,
]

series_max = [deit_t_max, deit_s_max, deit_b_max, swin_t_max, swin_s_max]
series_min = [deit_t_min, deit_s_min, deit_b_min, swin_t_min, swin_s_min]

yticks = [
    [-10, -5, 0, 5, 10, 15, 20, 25],
    [-20, -10, 0, 10, 20],
    [-60, -40, -20, 0, 20, 40],
    [-10, -5, 0, 5, 10, 15, 20, 25],
    [-10, -5, 0, 5, 10, 15, 20, 25],
]
ytick_labels = [
    ["\u221210", "\u22125", "0", "5", "10", "15", "20", "25"],
    ["20", "10", "0", "10", "20"],
    ["\u221260", "\u221240", "\u221220", "0", "20", "40"],
    ["\u221210", "\u22125", "0", "5", "10", "15", "20", "25"],
    ["10", "-5", "0", "5", "10", "15", "20", "25"],
]
xticks = [
    [0, 25, 50, 75, 100, 125, 150, 175, 200],
    [0, 50, 100, 150, 200, 250, 300, 350],
    [0, 100, 200, 300, 400, 500, 600, 700, 800],
    [0, 25, 50, 75, 100, 125, 150, 175, 200],
    [0, 25, 50, 75, 100, 125, 150, 175, 200],
]

# ---------------- layout ----------------
W, H = 1053, 552
fig = plt.figure(figsize=(W / 100, H / 100), dpi=100)

# axes boxes in pixels: left, top, width, height
boxes = [
    (32.5, 38.3, 304.5, 226.0),
    (391.7, 38.3, 305.0, 226.0),
    (756.7, 38.3, 305.0, 226.0),
    (32.5, 314.3, 304.5, 225.7),
    (390.8, 314.3, 305.0, 225.7),
]
xlims = [(-1.7, 201.3), (-2.9, 385.1), (-2.5, 769.5), (-1.7, 201.3), (-1.7, 201.3)]
ylims = [(-10.9, 26.0), (-27.9, 27.9), (-60, 40), (-10.8, 26.1), (-10.8, 26.1)]
title_pos = [(190.5, 27.3), (552.5, 27.3), (915.5, 27.3), (189.3, 305.0), (550.0, 305.0)]

c_max = "#9370DB"
c_min = "#DAA520"

for i in range(5):
    l, t, w, h = boxes[i]
    ax = fig.add_axes([l / W, 1 - (t + h) / H, w / W, h / H])
    ymax = series_max[i]
    ymin = series_min[i]
    ax.plot(np.arange(len(ymax)), ymax, color=c_max, lw=1.1, label=legend_labels[0])
    ax.plot(np.arange(len(ymin)), ymin, color=c_min, lw=1.1, label=legend_labels[1])
    ax.set_xlim(*xlims[i])
    ax.set_ylim(*ylims[i])
    ax.xaxis.set_major_locator(FixedLocator(xticks[i]))
    ax.yaxis.set_major_locator(FixedLocator(yticks[i]))
    ax.yaxis.set_major_formatter(FixedFormatter(ytick_labels[i]))
    ax.tick_params(labelsize=6.6, length=2.4, width=0.6, pad=1.8, colors="#333333")
    for sp in ax.spines.values():
        sp.set_linewidth(0.8)
        sp.set_color("#555555")
    leg = ax.legend(loc="upper right", fontsize=6.2, borderaxespad=0.45,
                    handlelength=2.0, framealpha=0.8)
    leg.get_frame().set_linewidth(0.6)
    for ln in leg.get_lines():
        ln.set_linewidth(1.1)
    tx, ty = title_pos[i]
    fig.text(tx / W, 1 - ty / H, titles[i], ha="center", va="baseline",
             fontsize=15, fontweight="bold",
             family=["Liberation Serif", "DejaVu Serif"])

fig.savefig("out.png", dpi=100)
